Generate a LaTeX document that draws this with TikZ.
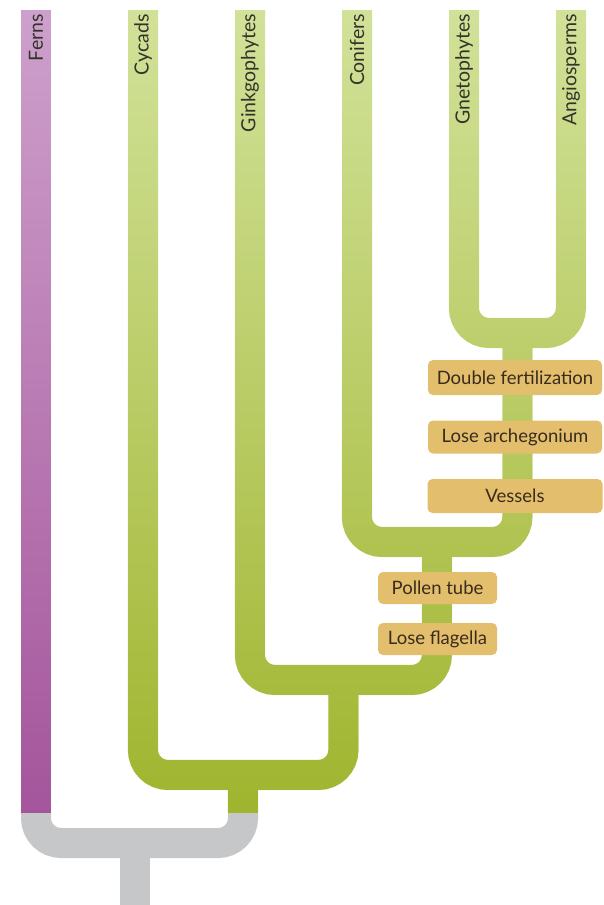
\documentclass[tikz,border=0pt]{standalone}
\usepackage{fontspec}
\setmainfont{Lato}
\usetikzlibrary{fadings}

\definecolor{greenlight}{HTML}{D3E39C}
\definecolor{greendark}{HTML}{9FB42C}
\definecolor{purplelight}{HTML}{CFA2CD}
\definecolor{purpledark}{HTML}{A4549B}
\definecolor{stemgrey}{HTML}{C6C7C9}
\definecolor{traitfill}{HTML}{E2BE6D}
\definecolor{traittext}{HTML}{3A2C1C}
\definecolor{labeltext}{HTML}{33332A}

% dark overlay invisible at the top, solid towards the bottom
\tikzfading[name=darken down, top color=transparent!100,
  middle color=transparent!42, bottom color=transparent!0]

\tikzset{
  branch/.style={line width=30pt, rounded corners=25pt},
  shade down/.style={path fading=darken down},
  taxon/.style={rotate=90, anchor=east, inner sep=0pt, text=labeltext,
    font=\fontsize{19.5}{21}\selectfont},
  trait/.style={fill=traitfill, rounded corners=5pt, inner sep=0pt,
    text=traittext, font=\fontsize{18.5}{21}\selectfont,
    minimum height=33pt},
}

\begin{document}
\begin{tikzpicture}[x=1pt, y=-1pt]
\useasboundingbox (0,0) rectangle (603,905);

% tips of the branches
\coordinate (fe) at (36,10);
\coordinate (cy) at (143,10);
\coordinate (gi) at (250,10);
\coordinate (co) at (357,10);
\coordinate (gn) at (464,10);
\coordinate (an) at (571,10);
% splits
\coordinate (j1) at (517.5,333);
\coordinate (j2) at (437,542);
\coordinate (j3) at (343.5,680);
\coordinate (j4) at (243,775);
\coordinate (gb) at (243,813);
\coordinate (fb) at (36,813);
\coordinate (j5) at (135,843);
\coordinate (root) at (135,905);

% seed plant tree: light base
\draw[branch, draw=greenlight]
  (gn) |- (j1) -| (an)
  (co) |- (j2) -| (j1)
  (gi) |- (j3) -| (j2)
  (cy) |- (j4) -| (j3)
  (j4) -- (gb);
% same tree, darker towards the root
\draw[branch, draw=greendark, shade down]
  (gn) |- (j1) -| (an)
  (co) |- (j2) -| (j1)
  (gi) |- (j3) -| (j2)
  (cy) |- (j4) -| (j3)
  (j4) -- (gb);

% fern branch
\draw[branch, draw=purplelight] (fe) -- (fb);
\draw[branch, draw=purpledark, shade down] (fe) -- (fb);

% common root
\draw[branch, draw=stemgrey] (fb) |- (j5) -| (gb);
\draw[branch, draw=stemgrey] (j5) -- (root);

% taxon names
\node[taxon] (tfe) at (36,14) {Ferns};
\node[taxon] (tcy) at (143,14) {Cycads};
\node[taxon] (tgi) at (250,14) {Ginkgophytes};
\node[taxon] (tco) at (357,14) {Conifers};
\node[taxon] (tgn) at (464,14) {Gnetophytes};
\node[taxon] (tan) at (571,14) {Angiosperms};

% characters gained along the tree
\node[trait, minimum width=174pt, minimum height=35pt] (df) at (515,377.5) {Double fertilization};
\node[trait, minimum width=174pt] (la) at (515,437) {Lose archegonium};
\node[trait, minimum width=175pt, minimum height=34pt] (ve) at (515,496) {Vessels};
\node[trait, minimum width=119pt, minimum height=32pt] (pt) at (437.5,588) {Pollen tube};
\node[trait, minimum width=119pt, minimum height=32pt] (lf) at (437.5,639) {Lose flagella};
\end{tikzpicture}
\end{document}
